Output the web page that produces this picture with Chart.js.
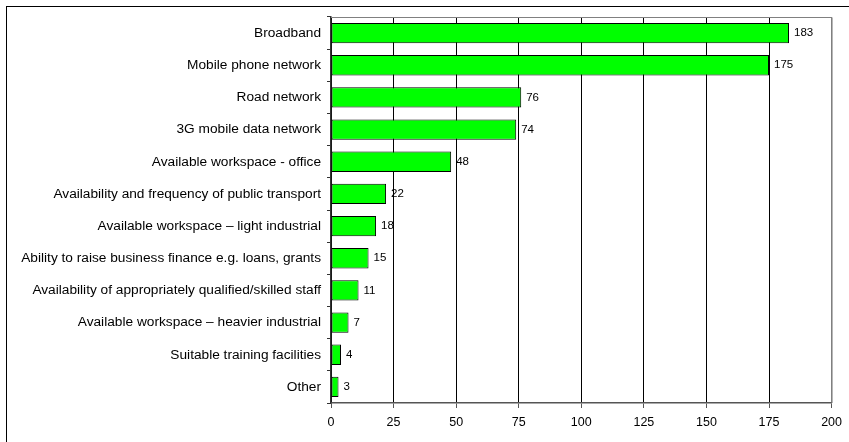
<!DOCTYPE html>
<html>
<head>
<meta charset="utf-8">
<script src="https://cdn.jsdelivr.net/npm/chart.js@4/dist/chart.umd.min.js"></script>
<style>
  html, body { margin: 0; padding: 0; background: #fff; overflow: hidden; }
  #wrap { position: relative; width: 849px; height: 442px; }
  #frame { position: absolute; left: 6px; top: 6px; width: 860px; height: 460px; border: 1.5px solid #000; box-sizing: border-box; pointer-events: none; }
  canvas { position: absolute; left: 0; top: 0; }
</style>
</head>
<body>
<div id="wrap">
  <div id="frame"></div>
  <canvas id="chart" width="849" height="442"></canvas>
</div>
<script>
const categories = [
  'Broadband',
  'Mobile phone network',
  'Road network',
  '3G mobile data network',
  'Available workspace - office',
  'Availability and frequency of public transport',
  'Available workspace \u2013 light industrial',
  'Ability to raise business finance e.g. loans, grants',
  'Availability of appropriately qualified/skilled staff',
  'Available workspace \u2013 heavier industrial',
  'Suitable training facilities',
  'Other'
];
const counts = [183, 175, 76, 74, 48, 22, 18, 15, 11, 7, 4, 3];
const xTicks = [0, 25, 50, 75, 100, 125, 150, 175, 200];

const FONT = 'Liberation Sans, Arial, sans-serif';

// gray top/right border of the plot area
const plotBorder = {
  id: 'plotBorder',
  beforeDatasetsDraw(chart) {
    const { ctx, chartArea: a } = chart;
    ctx.save();
    ctx.strokeStyle = '#808080';
    ctx.lineWidth = 1;
    ctx.beginPath();
    ctx.moveTo(a.left, a.top + 0.5);
    ctx.lineTo(a.right + 0.5, a.top + 0.5);
    ctx.lineTo(a.right + 0.5, a.bottom);
    ctx.stroke();
    ctx.restore();
  }
};

// value labels at the end of each bar
const valueLabels = {
  id: 'valueLabels',
  afterDatasetsDraw(chart) {
    const { ctx } = chart;
    const meta = chart.getDatasetMeta(0);
    ctx.save();
    ctx.font = '11.5px ' + FONT;
    ctx.fillStyle = '#000';
    ctx.textBaseline = 'middle';
    ctx.textAlign = 'left';
    meta.data.forEach((bar, i) => {
      ctx.fillText(String(counts[i]), bar.x + 5, bar.y);
    });
    ctx.restore();
  }
};

new Chart(document.getElementById('chart'), {
  type: 'bar',
  data: {
    labels: categories,
    datasets: [{
      data: counts,
      backgroundColor: '#00FF00',
      borderColor: '#000000',
      borderWidth: 1,
      borderSkipped: false,
      barPercentage: 0.63,
      categoryPercentage: 1
    }]
  },
  options: {
    indexAxis: 'y',
    responsive: false,
    animation: false,
    layout: { padding: { top: 17, right: 13, left: 0, bottom: 0 } },
    plugins: {
      legend: { display: false },
      tooltip: { enabled: false }
    },
    scales: {
      x: {
        min: 0,
        max: 200,
        afterBuildTicks(scale) { scale.ticks = xTicks.map(v => ({ value: v })); },
        afterFit(scale) { scale.height = 39; },
        grid: {
          color: ctx => (ctx.tick && ctx.tick.value === 200) ? '#808080' : '#000000',
          lineWidth: 1,
          tickLength: 5,
          tickColor: '#555'
        },
        border: { color: '#555', width: 1.5 },
        ticks: { color: '#000', font: { family: FONT, size: 12.5 }, padding: 7, maxRotation: 0 }
      },
      y: {
        afterFit(scale) { scale.width = 331; },
        grid: {
          offset: true,
          drawOnChartArea: false,
          drawTicks: true,
          tickLength: 4,
          tickColor: '#333'
        },
        border: { color: '#333', width: 1.5 },
        ticks: { color: '#000', font: { family: FONT, size: 13.7 }, padding: 6, autoSkip: false }
      }
    }
  },
  plugins: [plotBorder, valueLabels]
});
</script>
</body>
</html>
